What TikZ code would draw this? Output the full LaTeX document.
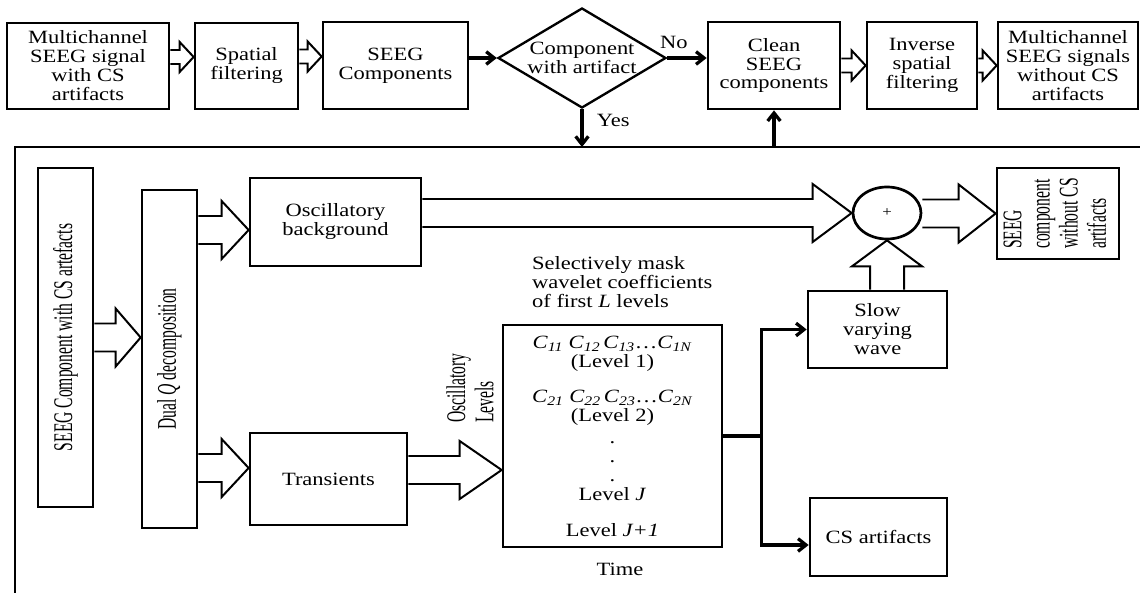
\documentclass[tikz,border=0pt]{standalone}
\usepackage{fontspec}
\setmainfont{Liberation Serif}[FakeStretch=1.2]
\newfontfamily\rotfnt{Liberation Serif}[FakeStretch=0.58]
\usetikzlibrary{calc}
\usetikzlibrary{shapes.geometric}
\usetikzlibrary{arrows.meta}
\tikzset{>={Straight Barb[length=2.4mm,width=3.8mm]}}

\newcommand{\mainsz}{\fontsize{16}{16.2}\selectfont}
\newcommand{\rotsz}{\rotfnt\fontsize{23}{24}\selectfont}
\newcommand{\cf}[1]{\textit{C}\textsubscript{\textit{#1}}}

% hollow arrow to the right: from, to, half shaft, half head, head length
\newcommand{\fatR}[5]{%
  \draw[fat] let \p1=#1, \p2=#2 in
    ($(\x1,\y2)+(0,-#3)$) -- ($(\p2)+(-#5,-#3)$) -- ($(\p2)+(-#5,-#4)$) -- (\p2)
    -- ($(\p2)+(-#5,#4)$) -- ($(\p2)+(-#5,#3)$) -- ($(\x1,\y2)+(0,#3)$);}
% hollow arrow pointing up
\newcommand{\fatU}[5]{%
  \draw[fat] let \p1=#1, \p2=#2 in
    ($(\x2,\y1)+(-#3,0)$) -- ($(\p2)+(-#3,#5)$) -- ($(\p2)+(-#4,#5)$) -- (\p2)
    -- ($(\p2)+(#4,#5)$) -- ($(\p2)+(#3,#5)$) -- ($(\x2,\y1)+(#3,0)$);}

\tikzset{
  sz/.style 2 args={minimum width=#1*0.03cm, minimum height=#2*0.03cm},
  blok/.style={draw, line width=2.3pt, align=center, inner sep=1pt},
  fat/.style={line width=1.7pt, line join=miter},
  flow/.style={line width=2.8pt, ->},
  outline/.style={line width=2pt},
}

\begin{document}
\begin{tikzpicture}[x=0.03cm, y=-0.03cm, every node/.style={font=\mainsz}]
  \useasboundingbox (0,0) rectangle (1140,593);

  % top row
  \node[blok, sz={162}{86}] (sig) at (88,66) {Multichannel\\SEEG signal\\with CS\\artifacts};
  \node[blok, sz={103}{86}] (spat) at (246.5,66) {Spatial\\filtering};
  \node[blok, sz={145}{87}] (comp) at (395.5,65.5) {SEEG\\Components};
  \node[draw, diamond, line width=2pt, inner sep=0pt, sz={168}{100},
        label={[align=center]center:Component\\with artifact}] (chk) at (582,58) {};
  \node[blok, sz={132}{87}] (clean) at (774,65.5) {Clean\\SEEG\\components};
  \node[blok, sz={110}{87}] (inv) at (922,65.5) {Inverse\\spatial\\filtering};
  \node[blok, sz={140}{87}] (res) at (1068,65.5) {Multichannel\\SEEG signals\\without CS\\artifacts};

  \fatR{(sig.east)}{($(spat.west)+(0,-9)$)}{7}{15}{14}
  \fatR{(spat.east)}{($(comp.west)+(0,-9)$)}{7}{15}{14}
  \fatR{(clean.east)}{(inv.west)}{7}{15}{14}
  \fatR{(inv.east)}{(res.west)}{7}{15}{14}

  % frame of the lower part
  \coordinate (fr) at (15,147);
  \draw[outline] (15,593) -- (fr) -- (1140,147);

  \draw[flow] (comp.east |- chk.west) -- (chk.west);
  \draw[flow] (chk.east) -- node[above=3pt, pos=.17] {No} (chk.east -| clean.west);
  \draw[flow] (chk.south) -- node[right=8pt, pos=.3] {Yes} (chk.south |- fr);
  \draw[flow] (clean.south |- fr) -- (clean.south);

  % lower part
  \node[blok, sz={55}{339}] (seeg) at (65.5,337.5) {\rotatebox{90}{\rotsz SEEG Component with CS artefacts}};
  \node[blok, sz={55}{338}] (dual) at (169.5,359) {\rotatebox{90}{\rotsz Dual \textit{Q} decomposition}};
  \node[blok, sz={171}{88}] (osc) at (335.5,222) {Oscillatory\\background};
  \node[blok, sz={157}{92}] (trans) at (328.5,479) {Transients};
  \node[blok, sz={219}{222}] (lev) at (612.5,436)
    {\cf{11} \cf{12}\,\cf{13}\dots\cf{1N}\\(Level 1)\\[14pt]
     \cf{21} \cf{22}\,\cf{23}\dots\cf{2N}\\(Level 2)\\[3pt]
     .\\.\\.\\Level \textit{J}\\[14pt]Level \textit{J+1}};
  \node[draw, ellipse, line width=2.3pt, sz={68}{52}, inner sep=0pt,
        font=\fontsize{12}{12}\selectfont] (sum) at (887,213) {+};
  \node[blok, sz={122}{91}] (cmp) at (1058,213.5)
    {\rotatebox{90}{\rotsz\begin{tabular}{@{}l@{}}SEEG\\component\\without CS\\artifacts\end{tabular}}};
  \node[blok, sz={139}{77}] (slow) at (877.5,329.5) {Slow\\varying\\wave};
  \node[blok, sz={137}{78}] (cs) at (878.5,537) {CS artifacts};

  \node[align=left, anchor=west] (mask) at (528,282) {Selectively mask\\wavelet coefficients\\of first \textit{L} levels};
  \node[font=\rotsz, rotate=90, align=left] (osclv) at (470,388) {Oscillatory\\Levels};
  \node (time) at (620,569) {Time};

  \fatR{(seeg.east)}{(seeg.east -| dual.west)}{14}{29}{25}
  \fatR{(dual.east)}{($(osc.west)+(0,8)$)}{14}{29}{27}
  \fatR{(dual.east)}{($(trans.west)+(0,-11)$)}{14}{29}{27}
  \fatR{(trans.east)}{($(trans.east -| lev.west)+(0,-9)$)}{14}{29}{42}
  \fatR{(osc.east)}{(sum.west)}{14}{29}{39}
  \fatR{(sum.east)}{(cmp.west)}{14}{29}{37}
  \fatU{(slow.north)}{(sum.south)}{17}{35}{26}

  \draw[line width=2.8pt] (lev.east) -- ++(38,0) coordinate (jn);
  \draw[flow] (jn) |- (slow.west);
  \draw[flow] (jn) |- ($(cs.west)+(0,8)$);
\end{tikzpicture}
\end{document}
